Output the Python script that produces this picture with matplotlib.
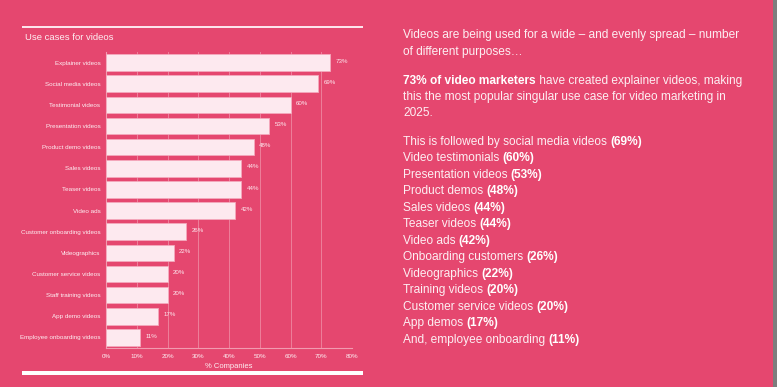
import matplotlib.pyplot as plt
from matplotlib.patches import Rectangle

plt.rcParams['font.family'] = ['Liberation Sans', 'DejaVu Sans']

categories = ["Explainer videos", "Social media videos", "Testimonial videos",
              "Presentation videos", "Product demo videos", "Sales videos",
              "Teaser videos", "Video ads", "Customer onboarding videos",
              "Videographics", "Customer service videos", "Staff training videos",
              "App demo videos", "Employee onboarding videos"]
values = [73, 69, 60, 53, 48, 44, 44, 42, 26, 22, 20, 20, 17, 11]
xticks = [0, 10, 20, 30, 40, 50, 60, 70, 80]

intro = ["Videos are being used for a wide \u2013 and evenly spread \u2013 number",
         "of different purposes\u2026"]
para_bold = "73% of video marketers"
para_rest = [" have created explainer videos, making",
             "this the most popular singular use case for video marketing in",
             "2025."]
list_plain = ["This is followed by social media videos ", "Video testimonials ",
              "Presentation videos ", "Product demos ", "Sales videos ",
              "Teaser videos ", "Video ads ", "Onboarding customers ",
              "Videographics ", "Training videos ", "Customer service videos ",
              "App demos ", "And, employee onboarding "]
list_bold = ["(69%)", "(60%)", "(53%)", "(48%)", "(44%)", "(44%)", "(42%)",
             "(26%)", "(22%)", "(20%)", "(20%)", "(17%)", "(11%)"]

bg = '#E5476F'
W, H = 777, 387
fig = plt.figure(figsize=(W / 100, H / 100), dpi=100, facecolor=bg)

ax = fig.add_axes([106 / W, 1 - 348 / H, 246 / W, 296 / H])
ax.set_facecolor(bg)
ypos = list(range(len(categories)))
ax.barh(ypos, values, height=0.78, color='#FDE9EF', edgecolor='#F4A9BD', linewidth=0.6, zorder=3)
for y, v in zip(ypos, values):
    ax.annotate(f"{v}%", (v, y), xytext=(4, 1), textcoords='offset points',
                va='center', ha='left', fontsize=4.4, color='#FDE9EF')
ax.set_ylim(len(categories) - 0.5, -0.5)
ax.set_xlim(0, 80)
ax.set_yticks(ypos)
ax.set_yticklabels(categories, fontsize=4.5, color='#FDEFF3')
ax.set_xticks(xticks)
ax.set_xticklabels([f"{t}%" for t in xticks], fontsize=4.5, color='#FDEFF3')
ax.tick_params(length=0, pad=4)
ax.grid(axis='x', color='#EE7F9B', linewidth=0.7, zorder=0)
for s in ['top', 'right']:
    ax.spines[s].set_visible(False)
for s in ['left', 'bottom']:
    ax.spines[s].set_color('#F29AB0')
    ax.spines[s].set_linewidth(0.8)
ax.set_xlabel("% Companies", fontsize=5.5, color='#FDEFF3', labelpad=3)

# frame lines and title
fig.add_artist(Rectangle((22 / W, 1 - 28 / H), 341 / W, 1.6 / H, color='#FDE4EC', lw=0))
fig.add_artist(Rectangle((22 / W, 1 - 375 / H), 341 / W, 4.5 / H, color='white', lw=0))
fig.add_artist(Rectangle((773 / W, 0), 4 / W, 1, color='#7d7d7d', lw=0))
fig.text(25 / W, 1 - 37 / H, "Use cases for videos", fontsize=6.8, color='#FDEFF3', va='center')

# right-hand text
tx = 403 / W
fs = 8.55
fig.text(tx, 1 - 35 / H, intro[0], fontsize=fs, color='#FDEFF3', va='center')
fig.text(tx, 1 - 51.5 / H, intro[1], fontsize=fs, color='#FDEFF3', va='center')
t = fig.text(tx, 1 - 81 / H, para_bold, fontsize=fs, color='white', fontweight='bold', va='center')
fig.canvas.draw()
bb = t.get_window_extent()
fig.text(bb.x1 / W, 1 - 81 / H, para_rest[0], fontsize=fs, color='#FDEFF3', va='center')
fig.text(tx, 1 - 97 / H, para_rest[1], fontsize=fs, color='#FDEFF3', va='center')
fig.text(tx, 1 - 113 / H, para_rest[2], fontsize=fs, color='#FDEFF3', va='center')

step = (340 - 141.5) / 12
for i, (p, b) in enumerate(zip(list_plain, list_bold)):
    y = 1 - (141.5 + i * step) / H
    t = fig.text(tx, y, p, fontsize=fs, color='#FDEFF3', va='center')
    fig.canvas.draw()
    bb = t.get_window_extent()
    fig.text(bb.x1 / W, y, b, fontsize=fs, color='white', fontweight='bold', va='center')

fig.savefig("out.png", dpi=100, facecolor=bg)
